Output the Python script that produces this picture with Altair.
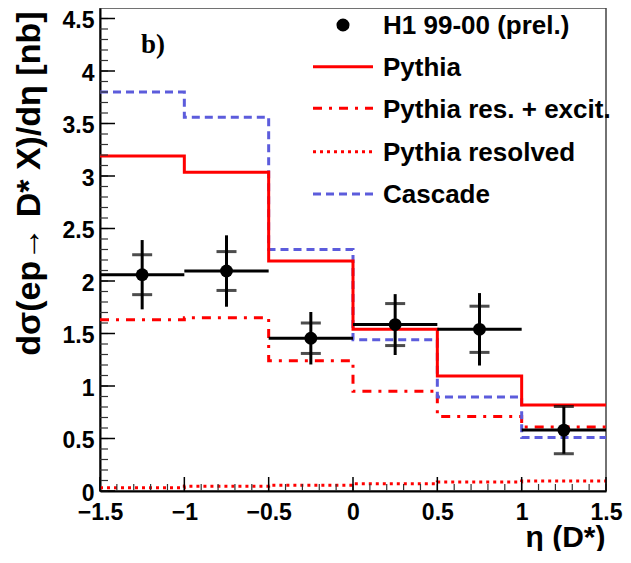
import altair as alt
import pandas as pd

# ---------------- data ----------------
edges = [-1.5, -1.0, -0.5, 0.0, 0.5, 1.0, 1.5]
pythia = [3.19, 3.035, 2.19, 1.54, 1.095, 0.82]
pythia_res_excit = [1.63, 1.65, 1.24, 0.95, 0.71, 0.61]
pythia_resolved = [0.03, 0.045, 0.055, 0.07, 0.085, 0.095]
cascade = [3.80, 3.56, 2.30, 1.44, 0.895, 0.51]

h1_x = [-1.25, -0.75, -0.25, 0.25, 0.75, 1.25]
h1_y = [2.06, 2.095, 1.455, 1.585, 1.54, 0.58]
h1_stat = [0.19, 0.185, 0.145, 0.20, 0.22, 0.225]
h1_tot = [0.33, 0.34, 0.25, 0.29, 0.345, 0.225]

x_ticks = [-1.5, -1.0, -0.5, 0.0, 0.5, 1.0, 1.5]
y_ticks = [0, 0.5, 1, 1.5, 2, 2.5, 3, 3.5, 4, 4.5]
x_minor = [round(-1.5 + 0.1 * i, 2) for i in range(31)]
y_minor = [round(0.1 * i, 2) for i in range(46)]

legend_labels = ["H1 99-00 (prel.)", "Pythia", "Pythia res. + excit.",
                 "Pythia resolved", "Cascade"]

RED = "#ff0000"
BLUE = "#5c5cdc"
FONT = "Liberation Sans"

W, H = 506, 483
xs = alt.Scale(domain=[-1.5, 1.5], nice=False, zero=False)
ys = alt.Scale(domain=[0, 4.6], nice=False, zero=False)

X_TITLE = "η (D*)"
Y_TITLE = "dσ(ep→ D* X)/dη [nb]"
XAX = alt.Axis(
    values=x_ticks, format="~g", ticks=False, grid=False, labelFlush=False,
    domainColor="black", domainWidth=2,
    labelFont=FONT, labelFontWeight="bold", labelFontSize=23,
    labelColor="black", labelPadding=10,
    title=X_TITLE, titleFont=FONT, titleFontWeight="bold",
    titleFontSize=30, titleColor="black", titleAlign="right",
    titleBaseline="alphabetic", titleX=505, titleY=55)
YAX = alt.Axis(
    values=y_ticks, format="~g", ticks=False, grid=False, labelFlush=False,
    domainColor="black", domainWidth=2,
    labelFont=FONT, labelFontWeight="bold", labelFontSize=23,
    labelColor="black", labelPadding=6, labelOffset=2,
    title=Y_TITLE, titleFont=FONT,
    titleFontWeight="bold", titleFontSize=34, titleColor="black",
    titleAngle=270, titleAlign="right", titleBaseline="middle",
    titleX=-71, titleY=3)


def X(field):
    return alt.X(field, scale=xs, axis=XAX, title=X_TITLE)


def Y(field):
    return alt.Y(field, scale=ys, axis=YAX, title=Y_TITLE)


def step_df(vals):
    return pd.DataFrame({"x": edges, "y": vals + [vals[-1]]})


def step_layer(vals, color, dash):
    kw = dict(interpolate="step-after", color=color, strokeWidth=3)
    if dash:
        kw["strokeDash"] = dash
    return alt.Chart(step_df(vals)).mark_line(**kw).encode(x=X("x:Q"), y=Y("y:Q"))


DASH_RES = [9, 7, 3, 7]
DASH_DOT = [3, 4]
DASH_CAS = [8, 5]

lines = [
    step_layer(pythia_resolved, RED, DASH_DOT),
    step_layer(pythia_res_excit, RED, DASH_RES),
    step_layer(cascade, BLUE, DASH_CAS),
    step_layer(pythia, RED, None),
]

# inner ticks (ROOT style, pointing into the frame)
ymaj = alt.Chart(pd.DataFrame({"y": y_ticks})).mark_rule(color="black", strokeWidth=1.5).encode(
    y=Y("y:Q"), x=alt.value(0), x2=alt.value(15))
ymin = alt.Chart(pd.DataFrame({"y": y_minor})).mark_rule(color="#333", strokeWidth=1.2).encode(
    y=Y("y:Q"), x=alt.value(0), x2=alt.value(8))
xmaj = alt.Chart(pd.DataFrame({"x": x_ticks})).mark_rule(color="black", strokeWidth=1.5).encode(
    x=X("x:Q"), y=alt.value(H), y2=alt.value(H - 14))
xmin = alt.Chart(pd.DataFrame({"x": x_minor})).mark_rule(color="#333", strokeWidth=1.2).encode(
    x=X("x:Q"), y=alt.value(H), y2=alt.value(H - 7))

# data points
pts = pd.DataFrame({
    "x": h1_x, "y": h1_y,
    "xlo": [v - 0.25 for v in h1_x], "xhi": [v + 0.25 for v in h1_x],
    "slo": [a - b for a, b in zip(h1_y, h1_stat)],
    "shi": [a + b for a, b in zip(h1_y, h1_stat)],
    "tlo": [a - b for a, b in zip(h1_y, h1_tot)],
    "thi": [a + b for a, b in zip(h1_y, h1_tot)],
})
base = alt.Chart(pts)
vbar = base.mark_rule(color="black", strokeWidth=3).encode(
    x=X("x:Q"), y=Y("tlo:Q"), y2="thi:Q")
hbar = base.mark_rule(color="black", strokeWidth=3).encode(
    x=X("xlo:Q"), x2="xhi:Q", y=Y("y:Q"))
cap_hi = base.mark_tick(color="black", orient="horizontal", size=20, thickness=3).encode(
    x=X("x:Q"), y=Y("shi:Q"))
cap_lo = base.mark_tick(color="black", orient="horizontal", size=20, thickness=3).encode(
    x=X("x:Q"), y=Y("slo:Q"))
dots = base.mark_point(filled=True, shape="circle", color="black", size=165, opacity=1).encode(
    x=X("x:Q"), y=Y("y:Q"))

# label b)
one = pd.DataFrame({"a": [0]})
blabel = alt.Chart(one).mark_text(text="b)", font="Liberation Serif", fontWeight="bold",
                                  fontSize=27, align="left", baseline="alphabetic",
                                  color="black").encode(x=alt.value(41), y=alt.value(45))

# legend
leg_y = [17, 58.7, 100.3, 143.7, 186]
leg = []
leg.append(alt.Chart(one).mark_point(filled=True, shape="circle", color="black", size=170,
                                     opacity=1).encode(x=alt.value(243), y=alt.value(leg_y[0])))
styles = [(RED, None), (RED, DASH_RES), (RED, DASH_DOT), (BLUE, DASH_CAS)]
for (c, d), yy in zip(styles, leg_y[1:]):
    kw = dict(color=c, strokeWidth=3)
    if d:
        kw["strokeDash"] = d
    leg.append(alt.Chart(one).mark_rule(**kw).encode(
        x=alt.value(213), x2=alt.value(273), y=alt.value(yy)))
for lab, yy in zip(legend_labels, leg_y):
    leg.append(alt.Chart(one).mark_text(text=lab, font=FONT, fontWeight="bold", fontSize=26,
                                        align="left", baseline="alphabetic", color="black"
                                        ).encode(x=alt.value(283), y=alt.value(yy + 9.3)))

chart = alt.layer(
    *lines, ymin, ymaj, xmin, xmaj, hbar, vbar, cap_hi, cap_lo, dots, blabel, *leg
).properties(
    width=W, height=H,
    autosize=alt.AutoSizeParams(type="none"),
    padding={"left": 92, "top": 0, "right": 17, "bottom": 60},
).configure_view(stroke="#444", strokeWidth=1.5)

chart.save("out.html", embed_options={"renderer": "svg", "actions": False})
